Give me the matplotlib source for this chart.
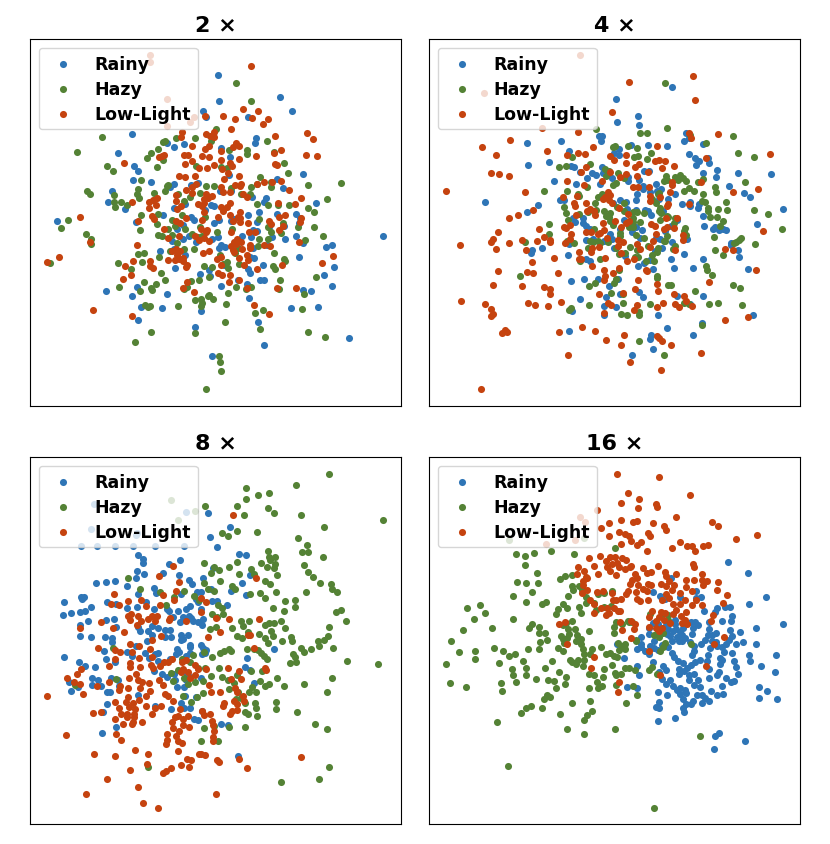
import numpy as np
import matplotlib
matplotlib.use("Agg")
import matplotlib.pyplot as plt

# t-SNE embeddings (panel units, y grows downward)
classes = ["Rainy", "Hazy", "Low-Light"]
colors = ["#2E75B6", "#548235", "#C5430F"]
titles = ["2 ×", "4 ×", "8 ×", "16 ×"]

rainy_2x = np.array([
    (56.5,10.8),(57,18.8),(75.2,17.5),(78.9,21.7),(52,21.6),(52.9,23.5),(30.6,28.7),(65.5,23.5),(67.9,29.9),(67.7,31.3),
    (26.6,34.4),(31.3,38.3),(32.6,39.7),(57.4,32.7),(60.3,35.5),(43.3,32.4),(46.2,31.6),(41.2,31.2),(82.1,40.7),(74.4,42.1),
    (76,44.9),(36.5,43),(31.1,42.4),(24.6,45.7),(23.6,48.9),(28.6,51.1),(42.1,44.5),(43.2,43.6),(48.4,43.8),(50.6,43.4),
    (57.2,45.8),(59.8,41),(60.5,45.7),(66.8,47.5),(70.4,48.9),(70.9,47.9),(69,52),(74.2,52.6),(79.9,52.6),(81.2,53.7),
    (85.9,49.3),(8.2,54.7),(31.9,54.9),(40.1,52.9),(43.3,50.9),(46.7,49.5),(48.5,53.5),(49.3,54.4),(52.6,51.3),(54.5,49.8),
    (55.3,50.2),(56.8,54.5),(60.4,54.8),(61.5,54.1),(65.6,52.9),(68.4,55.1),(67.2,57.5),(71.9,56.5),(76.4,56.3),(80.8,55.2),
    (106.1,59.2),(55.3,55.4),(44.2,57.3),(45.9,55.9),(42.6,60.7),(46.1,60.3),(47.7,59.4),(54.6,60.2),(56.5,59.6),(57.4,61.9),
    (63.9,59.3),(66.4,59.6),(68.4,57.9),(72.8,59.7),(76.6,60.1),(80.1,59.2),(82.2,61.4),(89.1,62.6),(90.7,62),(39.1,63.7),
    (43.3,63.1),(46.5,64.9),(49.8,61.1),(56.8,62.9),(58.6,62.6),(66.3,65.6),(67.2,63),(67.5,66),(71.4,62.1),(80.8,65.6),
    (91.3,68.5),(43.6,69),(51,70.8),(53.9,69.5),(54.2,71.3),(58.4,67.9),(65.5,69.1),(66.1,70.4),(70,67.9),(69.1,72.5),
    (70.5,72.5),(88.4,70.9),(90.9,74.2),(22.8,75.8),(32.1,74.7),(41.3,76.6),(30.6,77.3),(57.6,74.2),(62.6,72.5),(65.4,73.6),
    (66,78),(39.6,80.9),(33.5,80.7),(78.5,80.9),(86.7,80.5),(32.4,84.6),(51.3,81.8),(49.7,86.5),(68.5,85),(70.3,92.1),
    (54.8,95.3),(96,89.8),(82.1,75.4),(84.4,75.7),
])
hazy_2x = np.array([
    (62.1,13.2),(66.4,18.7),(21.6,29.5),(14,34),(40.1,31),(40.7,30.7),(38.5,33.1),(44,29.9),(49.7,29.8),(36.3,34.2),
    (35.3,35.8),(39.9,36.5),(38.1,38.4),(23.3,38.2),(24.9,39.8),(55.9,27),(54.5,30.8),(59.9,33.3),(65.2,33.5),(65.4,34.6),
    (71.2,30.7),(73.4,33.9),(76.4,37.3),(77.6,40.4),(49.9,38.3),(57.6,38.5),(59.2,38.9),(18,46.6),(17,45.8),(25.3,46.9),
    (25.7,50.6),(25.3,49.1),(27.5,49.1),(29.2,50),(32.2,46.5),(32.8,47.7),(33.5,42.3),(32.6,45),(37.2,46.4),(40.7,45.8),
    (41.2,44.2),(41.6,43.9),(44.6,46.5),(46.3,48.6),(48.2,47.5),(51.2,46.3),(52.9,44.3),(55.3,44.2),(60.6,44.9),(63.5,46.5),
    (66.3,46.7),(66.5,44.4),(69.2,41.5),(68.2,43.5),(72.6,43.1),(72.6,44.6),(83.5,43.9),(93.7,43.2),(89.4,48.1),(83.5,50.8),
    (85.3,52),(77.8,50),(74.6,50),(71.7,50),(68.3,49.6),(11.5,54.3),(9.2,56.8),(16.8,58.7),(18.3,60.3),(18.4,61.8),
    (33.3,53),(33.2,57.5),(38.6,52.6),(38.3,55.6),(42.7,54.3),(45.6,52.8),(46.5,57.3),(48.7,58.7),(51.2,56.5),(51.7,59.4),
    (52.6,53.5),(42.8,58.9),(41.4,57.3),(43.6,56.4),(38.5,59.1),(39.8,59.3),(44.1,61.5),(46.4,63.2),(49.4,63.2),(50.6,59.7),
    (56.3,58.1),(60.7,57.3),(69,54.1),(71.6,56.7),(72.6,58.1),(75.4,58.5),(76,55.5),(80.6,56.6),(85.5,56.7),(88.1,59.2),
    (82.7,60.4),(68.8,60.3),(71.5,60.2),(68.7,62.4),(73.3,64.5),(76.3,66.2),(85.9,71.6),(5.9,67.5),(26.6,67.4),(30.3,69.3),
    (32.6,64.6),(34.3,64.3),(33.6,67.1),(38.8,65.5),(42.1,63.8),(52.2,68.3),(54.7,68.7),(58.2,67.6),(59.4,67.2),(59.5,68.8),
    (61.8,64.3),(62.7,63),(57.1,65.1),(62.8,67.6),(73.2,68.3),(73.7,69.1),(76.7,66.7),(34.4,73.1),(37.8,73.8),(36.3,74.9),
    (39.4,70.4),(40.6,72.6),(33.2,75.7),(36.6,75.6),(48.4,72.9),(46.3,75.1),(50.7,72.4),(53.8,71.5),(53.7,76.9),(51.5,78.2),
    (49.7,78.4),(47.1,74.7),(59.5,76.4),(62.1,74.5),(66.4,74.6),(26.7,74.6),(44.6,80.2),(53.6,77.2),(64.9,75.1),(75.2,72.4),
    (82.5,76.6),(34.7,80),(36.1,80.2),(35.5,80.7),(51.8,79.4),(51.3,80.2),(55,78.2),(58.9,79.8),(58.8,85),(67.8,82.4),
    (70.2,81.6),(75,75.2),(81.7,81.1),(49.6,88.3),(36.3,88.2),(31.6,91.2),(69.2,87.2),(83.7,88.2),(88.6,89.5),(56.8,95.5),
    (57.1,97.3),(57.5,99.8),(52.8,105.4),
])
lowlight_2x = np.array([
    (36.1,4.8),(36.1,6.8),(41.3,17.9),(48,25.1),(41.3,26.3),(66.4,8.2),(49.4,23.5),(52.6,23.1),(58.2,23.2),(61.6,24.2),
    (64,21.2),(66.8,23.8),(68.7,21.6),(71.6,24.2),(70.1,25.7),(60.4,27.1),(45.6,28.1),(45.4,29.4),(54.2,29.2),(55.4,29.6),
    (55.2,28),(53,28.6),(48.7,32.1),(53.8,32.1),(62.1,31.2),(62.8,32.1),(61,32.6),(73.6,29.1),(83.4,28.4),(85.2,30),
    (40.4,34.9),(39.6,35.3),(38.7,35.4),(46.3,35),(47.6,34.9),(48.6,36.8),(46.6,37.6),(51.8,35.1),(53.8,35.4),(52.7,33.2),
    (57.5,33.7),(57.4,36.4),(55.2,37.8),(53.1,38.7),(50.7,38.8),(60.1,37.4),(60.8,38.1),(57.9,39.2),(59.5,40.2),(58.3,42.2),
    (62.8,36.1),(68.1,35.3),(73.3,34.2),(75.6,33.3),(74.3,38),(73.8,37.7),(82.9,34.8),(86.4,35.3),(28.2,37.2),(44.9,41.3),
    (46.7,41.5),(49.5,41.1),(49.9,43.6),(48.8,44.4),(46.9,45.3),(44,46.8),(48.8,46.2),(52.8,46.5),(54.6,47.1),(52.3,48.2),
    (57.5,44.6),(58.1,46),(60.3,45.9),(61.6,44),(62.8,41.3),(63.2,44.3),(64.2,46.6),(63.4,43.5),(65.4,47.6),(68.3,43.7),
    (70.4,42.9),(72.8,43.1),(75.6,42.8),(77.9,45.4),(81.6,47.9),(74.5,49.2),(75,53.4),(76.8,52.8),(79.7,49.6),(30.6,49.1),
    (35.8,49),(35.7,50.8),(37,48.3),(37.9,49.8),(38.1,47.9),(43.8,48.7),(44.3,51.1),(45.3,50.2),(50.4,49.6),(52.3,49.2),
    (53.6,47.8),(51.8,50.2),(57.5,50.5),(58.1,51.7),(59.2,50.6),(60.1,49.3),(63.2,52),(62.6,53.4),(60.2,53),(61.2,54.7),
    (63.3,53.9),(52.2,51.9),(51.6,54.4),(56.7,53.6),(46.8,53.7),(43.9,54.8),(45.1,55.4),(32.4,54.8),(37.2,54.2),(36.6,53.3),
    (14.9,53.6),(63.2,55.1),(65.6,55.4),(71.9,54.8),(72.6,55.6),(76.1,56.3),(74.9,57.6),(81.4,53.7),(81.3,55.1),(40.4,57.3),
    (41.6,59.9),(44.9,59.3),(49.7,59.2),(51.5,57.1),(52.8,58.1),(53.2,57.6),(53.7,60.8),(50.7,60.6),(52.3,60),(60.5,58.1),
    (65.9,58),(67.6,58),(61.4,61.1),(62,61.8),(63.6,61.1),(60.5,62.3),(62.3,60.1),(66.3,62.9),(61.1,63.4),(63.9,63.3),
    (70.3,61.9),(72.1,62.2),(80.9,61.1),(32.2,62.1),(18,61),(5,67),(8.6,65.7),(42.6,63.9),(43.8,63.1),(43.7,66.6),
    (45.2,63.7),(44.9,66.1),(41.4,66.5),(44.2,65),(45.9,65.8),(46.1,66.9),(36.2,66.9),(36.2,68.4),(31.1,66.9),(28.5,68.4),
    (37.1,68.9),(46.8,68.5),(47.3,68),(53.8,63.8),(52.1,64.4),(57.6,65.6),(56.4,66.3),(57.6,67.9),(61.4,64.2),(63,65.8),
    (64.4,67.9),(65.7,66.6),(65.4,64.9),(66.1,62.1),(68.3,69.3),(75.9,68.1),(87.8,67.4),(91,65.3),(28.1,72.1),(30.3,71.1),
    (47.1,73.2),(45.9,75),(49.2,76.2),(56.6,70.4),(57.8,71.1),(60.1,71.1),(59.9,73.1),(62.9,72.6),(65.2,74.9),(74.4,75),
    (79.9,74.8),(67.3,80.1),(71.9,82.8),(30.7,83.3),(19.1,81.4),
])

rainy_4x = np.array([
    (73,14.3),(56.3,18.1),(63,23.3),(56.6,25),(63.1,25.9),(39.6,30.6),(29.4,31.3),(29.7,37.9),(36.1,37),(42.1,33.8),
    (42.6,38.2),(43.7,38.6),(45.5,39.9),(44.2,43.5),(37.5,42.6),(51.8,30.8),(51.2,29.3),(52.1,29.3),(60.7,31.8),(57.3,33.1),
    (57.1,34.9),(55.5,34.3),(65.9,31.8),(71.6,32.3),(76.6,30.8),(77.2,28.4),(78.1,29.7),(82.5,31.6),(84.3,37.3),(78.1,34.6),
    (80.1,35.8),(80.4,37.9),(81.2,36.6),(83.8,35.8),(82.3,40.4),(86.2,41.5),(86.7,39.4),(93.1,40.4),(103,40.6),(94.8,46.2),
    (90.2,44.3),(96.7,47.4),(98.6,55.6),(106.5,51),(66.1,39.6),(64.7,39.6),(63.1,42.4),(64.4,44.3),(64.4,45.2),(59.8,41.5),
    (59.8,42.6),(51.9,38.5),(52.4,40.3),(50.2,40.9),(51.3,43.5),(55.1,41.9),(48.9,40.2),(47.4,41.9),(40.7,48.4),(39.4,48.4),
    (43.2,53.7),(44,54.9),(46.3,55.5),(46.2,53.9),(47.3,56.2),(48.3,57.3),(55.4,49.2),(57.6,48.4),(59.2,49.1),(59.5,51.1),
    (62.2,48.5),(62.7,46.7),(68.4,43.5),(68.6,45.8),(69.8,45.2),(71.8,48),(74.1,46.7),(74.5,54.1),(74.5,54.4),(76.1,49.7),
    (78.6,49),(78.6,50.2),(81.3,49.7),(81,50.7),(82.5,53.1),(82.8,56.2),(85.9,56.7),(88.4,57.3),(89.4,57.5),(90.9,61.4),
    (90.9,62.1),(93.1,63.4),(93.2,65.5),(95.9,69.2),(87.3,57.4),(85.4,57.3),(69.1,48.2),(70.3,51.7),(65.9,51.6),(64.9,51.5),
    (62.2,51.4),(58.8,54.3),(57.5,57.3),(61.2,58.1),(62.3,56.6),(63.4,59.9),(64,57.4),(68.3,60),(70.9,57.7),(72.7,56.4),
    (77.5,60.1),(70.2,62.8),(68.1,63.7),(69.5,60.3),(73.2,61.2),(72.7,66.1),(76.7,64.8),(82.4,66.2),(79.5,68.8),(73.6,68.9),
    (67.3,69.2),(64.8,67.3),(66.4,66.5),(62.9,68.2),(59,65.4),(55.6,62.8),(54.9,60.2),(54.4,58.6),(52.6,60.8),(49.2,60.3),
    (47.1,60.5),(42.1,61.6),(41.8,65),(34.1,62.9),(30.9,63.6),(30.6,64.5),(16.9,49.1),(29.4,52),(32.9,49.8),(47.2,66.1),
    (48.4,66.8),(42.6,72.7),(46.5,72.2),(50.7,72.3),(54.2,74.3),(56.8,72.2),(57.5,76.6),(53.1,77.5),(52.6,80.3),(56.2,80.5),
    (52.5,82.9),(45.4,78.2),(43.1,81.8),(42.2,87.8),(63.1,76.1),(64.4,77.5),(69,83.1),(66.9,88.9),(66.5,90.1),(71.5,87),
    (79.5,89),(78.4,79.7),(74.7,77.3),(82.1,85.4),(82.4,77.4),(97.6,83.1),(67.3,93.4),(61.1,95.1),(66.9,52.9),(66.5,45.9),
])
hazy_4x = np.array([
    (70.9,13.2),(50.2,27.1),(71.7,26.9),(65.7,28.4),(63.5,28.4),(78.4,28.8),(83.3,31.4),(91.4,29.2),(92.8,34.2),(97.7,35.5),
    (55.3,32.4),(56.1,32.2),(59.9,32.2),(62.5,32.9),(61.7,35.4),(62.9,35.2),(65.5,36.2),(66.8,34.4),(43.1,35.5),(39,38.4),
    (41.1,38.1),(48.5,37.6),(52.9,39.2),(54.2,39.6),(53.7,40.4),(53.2,41.2),(57,40.2),(58.6,41.7),(56.4,43.4),(55.2,44),
    (47.6,44.4),(41.6,45.7),(44.8,46.6),(45.2,47.2),(34.7,45.7),(50.8,47.6),(52,46.5),(53.5,46.8),(49.9,49.3),(50.2,51.4),
    (47.9,51.9),(52.7,51.8),(54.5,52.3),(56.6,50.6),(58.6,49.2),(58.8,51.6),(61.3,51.9),(62.6,51.9),(61.4,53.9),(61.5,54.9),
    (63.6,54.9),(64.8,52.2),(61.5,56.5),(60.1,56.6),(62.4,58.9),(57.5,58.4),(57.5,59.3),(55.3,55.9),(54.5,54.8),(54.2,53.5),
    (53.1,53.1),(49.6,57.2),(50.9,60.7),(51.4,61.3),(49.3,61),(48.5,60.9),(40.7,50.4),(41.3,52.4),(41.8,54.3),(45.1,52.6),
    (36.2,55.8),(36.1,58.8),(28.8,61.2),(27.3,71.2),(41.4,60.8),(43.6,61.3),(47.7,62.9),(45.5,66.8),(51.4,66.1),(53.8,61),
    (56.2,62.9),(57.1,64.8),(59.1,64.3),(60.4,62.7),(62.5,63.6),(62,65.5),(62.8,65.6),(64.8,59.8),(65.9,62.4),(67,65.1),
    (68.6,64.2),(65.4,66.8),(67.7,66.8),(68.8,62.9),(70.8,60.9),(71.1,60.7),(71.7,59.2),(73.4,63.2),(74,62.4),(73.6,55.5),
    (74.1,53.9),(69.9,52.2),(69.6,54.3),(71.7,53.3),(71.9,53.6),(69.5,50.7),(69.1,51.6),(68.2,49.2),(67.1,48),(68.8,46.5),
    (69.3,46.2),(71.2,41.2),(70.6,42.7),(71.6,42.4),(74,41.6),(74.8,42.3),(75.5,40.9),(76.3,41.8),(77.2,42.6),(76.7,45.6),
    (78.2,44.9),(79.6,45.8),(82.4,46.5),(82.2,48.6),(82.9,48.9),(80.8,42.9),(82.3,42),(85.9,44.4),(86.3,46.1),(84,50.9),
    (83.9,51.8),(84.4,53.5),(86.7,53.6),(87,51.2),(89.4,49.1),(89.6,51.3),(88.5,54.6),(87.4,56.3),(85.8,59.6),(86,63.4),
    (88.4,65),(91.7,61.3),(92.2,61),(93.2,60.4),(93.9,59.9),(95,42.9),(97.7,51.5),(98,61.6),(102.1,52.5),(106.2,57.2),
    (76.8,57.9),(77.2,59.1),(76.9,57),(83.2,68.4),(83.7,69.6),(85.1,70.9),(79.9,75.7),(71.8,74.1),(72.8,74.1),(68.5,71.8),
    (68.6,71.2),(57.2,69.6),(56.2,72.1),(55.7,73.3),(54.6,76.4),(49.8,73.4),(48.2,74.3),(42.7,80.8),(42.1,81.4),(48.1,79.9),
    (57.7,82.7),(58.3,79.3),(59.7,82.9),(63.2,82.1),(63.3,83),(66.6,79.7),(76.6,79.5),(78.2,79.8),(84.3,79.8),(86.9,79.3),
    (91.5,74),(93.6,75),(94.1,79.9),(82,86),(63.2,90.9),(70.8,95.2),(58.5,76.8),
])
lowlight_4x = np.array([
    (45.5,4.9),(16.6,16.1),(60.2,12.8),(79.3,11.2),(80.1,18.5),(54.9,21.9),(34,26.7),(44.8,27.9),(15.8,32.4),(24.3,30.3),
    (20.1,34.9),(18.6,40.2),(21.2,40.5),(24.1,41.3),(35.4,33.8),(44.8,34.3),(46.8,34.6),(49.4,32.6),(41.6,34.9),(5.2,45.8),
    (28.9,46.1),(31.3,51.4),(26.8,52.9),(24,53.9),(33.2,57.3),(20.7,58),(18.8,61),(19.4,60.1),(20.1,63.2),(9.4,62.1),
    (24.2,61.4),(28.1,60.5),(29.1,63.6),(32.6,60.7),(34.6,59.5),(36.4,60.5),(36.3,61.2),(37.5,65.8),(30.9,67.2),(31.3,70.4),
    (29.4,70),(20.9,69.7),(19.2,74.1),(27.9,74.4),(34.7,74.6),(36.3,75.1),(36.5,76.8),(38.9,70.4),(45.1,66.2),(45.2,64),
    (9.6,78.7),(16.7,79.6),(18.7,81.3),(19.4,82.8),(18.5,83.3),(29.7,79.5),(32,79.9),(35.7,80.3),(39.6,79.1),(22,88.3),
    (23.5,88.1),(22.8,87.5),(39.1,88),(46,86.5),(49.8,87.8),(53.2,90.6),(41.8,95),(15.7,105.3),(57.8,92),(58.8,89),
    (60.4,97.3),(69.9,99.7),(72.9,92),(81.9,94.6),(69.3,90),(88.9,84.4),(96.1,83.7),(98.4,69.4),(100.5,57.9),(99,45.2),
    (102.5,34.6),(86.9,28.5),(78.2,28.2),(78.7,29.7),(83.3,35.8),(68.5,32.3),(69.3,36.3),(70.9,36.8),(70.1,38.9),(67.9,36.8),
    (73.8,38.1),(62.1,38.5),(63.1,37.7),(59.2,37.3),(55.7,36.4),(54.4,35.3),(59.4,34.9),(47.2,38.6),(45.7,40.1),(41.4,42.6),
    (46.6,43.9),(52,42.6),(54.3,39.9),(57.6,41.6),(59.3,40.5),(62.7,41.3),(65.8,40),(61.5,44.6),(62.8,44.6),(66.1,44.5),
    (66.4,47.1),(66.4,48.8),(69.6,47.6),(73.1,43.9),(73.2,42.9),(72.5,46),(81.7,43.1),(91.4,46),(78.2,49.7),(74.5,53.7),
    (40.3,47.4),(43.6,49.3),(44.5,47.3),(44,50.2),(47.1,49.2),(47.5,51.6),(48.4,51.1),(49.6,51.7),(50,52.9),(52.8,47.6),
    (52.3,48.2),(53.8,46),(54.5,46.8),(54.1,48.5),(55,49.3),(57.1,50.7),(60,52.5),(60.2,54.6),(59.3,55.5),(57.7,56.7),
    (55.9,54.8),(52.4,55.2),(52.7,57.6),(53.5,59.9),(51.4,58.3),(50.7,58.8),(48.7,58.2),(47.1,58.1),(49.1,63),(48.8,64.1),
    (51,62.6),(52.9,65.8),(57,60.4),(56.9,62.4),(58.5,61.1),(57.9,64.3),(62.5,61.8),(63.6,63.2),(66.4,62.7),(67.4,60.8),
    (68.1,56.3),(66.7,55.7),(68.4,58.6),(71.5,56.6),(71.2,53.9),(70.8,57.3),(71.8,49.6),(71.6,50.3),(73.8,56.9),(74.1,63.5),
    (76.5,60.6),(76.4,59.1),(88.9,63.3),(91.5,63.6),(44.2,52.8),(42.3,55.9),(41.3,57),(40.6,56.6),(42.7,58.6),(42.3,60.2),
    (40.9,61.5),(45.7,66.1),(48.9,68.3),(52.6,69.4),(52.9,71.4),(52.5,72.4),(55.4,70.5),(57.2,69),(59.6,66.7),(61.6,66.3),
    (65.2,69.6),(65.6,69.7),(62.8,72.5),(62,75.2),(58.3,76.3),(51.2,76.7),(53.7,79.5),(54.6,79.9),(52.5,82.3),(62.7,79.9),
    (61.7,81.4),(68.7,73.8),(68.8,75.7),(68.5,80.5),(70.5,79.5),(73.6,76.8),(73.9,79.8),(75.2,80.5),(77.2,78.8),(84.1,73.2),
    (79.2,80.4),(76.8,77.3),(70.2,90.7),(68.5,89.4),
])

rainy_8x = np.array([
    (19.4,14.2),(18.3,21.7),(31.8,23.6),(32.3,23),(46.9,16.6),(53.5,16.8),(60.1,21.1),(54.2,24.1),(56.4,27.1),(15.2,26.9),
    (20.1,26.9),(25.6,26.9),(30.9,26.9),(37.6,26.9),(46.3,26.9),(32.6,29.6),(34,30.7),(34.1,31.8),(41.8,32.2),(45,30.9),
    (63,29.3),(65.1,29.5),(32.2,34.2),(34.4,35.3),(31.8,36.3),(40,35),(44.7,35.5),(47.9,37),(48.7,38.1),(51.9,36.3),
    (55,33.5),(66.2,35.5),(63.9,38),(19.8,37.9),(23,37.6),(25.6,37.2),(29.1,38.9),(37.4,39.5),(37.9,40.8),(32.4,41.1),
    (54.3,39.6),(51.3,40.6),(50.1,40.5),(49.9,42.7),(45.5,41.3),(60.6,40.4),(64.9,41.5),(15.2,42.2),(16.3,42),(15.7,42.6),
    (10.1,43.6),(18.4,45.2),(23.1,43.7),(25.9,44.3),(29.2,45.3),(32.2,45.2),(34.9,43.6),(37.3,45.7),(41.3,45.8),(41.9,46.4),
    (44.4,46.2),(47,45.8),(48,44.7),(50.6,43.6),(51.5,45.8),(54.7,43.2),(56.4,43.2),(59.3,44.4),(14.9,46.6),(16.6,46.2),
    (12.2,46.9),(9.8,47.6),(17.4,49.2),(22.9,48.9),(25.3,48.8),(25.8,51),(32.4,51.2),(35.6,52.4),(36.6,50.9),(38.4,51.3),
    (40.5,51.9),(42,52.1),(43,48.1),(45.1,49.6),(46.1,48.2),(47.7,47.8),(48.5,48.5),(49.1,49.3),(50.4,49.5),(52,48.6),
    (51.6,50.6),(47.6,53.4),(46.1,54.8),(45.3,55),(45.4,53.5),(42.4,54.2),(40.7,54.2),(36.6,53.6),(33.2,52.4),(14.9,50.4),
    (15,53.8),(18.3,54.2),(22.6,54),(24.6,54.3),(24.7,55.6),(31.9,56.9),(35.3,55.3),(34.7,59),(37.6,59.4),(38.6,59.1),
    (44.2,57.8),(44.7,58.8),(48.1,56.5),(48.2,57.2),(51.4,56.6),(52,57.4),(52.7,58.9),(53,58.1),(51.6,59.4),(48.1,58.9),
    (46.8,60),(43.9,59.3),(42.1,60.8),(38.5,61.3),(35.8,60.5),(30.7,59.8),(29.1,58.7),(25.6,61.8),(22.9,60.7),(22.4,58.3),
    (10.2,60.1),(14.8,61.7),(16.4,62.8),(19.6,63.3),(18.7,66.6),(20.4,67.2),(11.7,67.6),(12.2,70.3),(14.5,69.3),(18.6,68.6),
    (21.3,69),(23.2,70.7),(24.2,70.8),(24.5,66.5),(26.4,67),(26.9,68.9),(32.6,71.5),(37.4,64.5),(39.8,65.3),(41.1,66.3),
    (43.3,65.3),(43.7,67),(44.1,69.2),(46.9,67.2),(46.3,69.2),(47.2,65.2),(48.1,66.1),(51.3,66.5),(46.6,71.8),(45.4,73.9),
    (46.2,75.6),(42.4,75.7),(49.8,72.2),(48,75.5),(49.4,78.9),(50.4,79),(51.8,76.5),(57.6,80.4),(59.7,80.7),(64.6,63.2),
    (65.2,60.6),(66.1,64.1),(67.4,68.1),(73.4,57.9),(22,76.7),(23.3,74.2),(21.7,82.9),(25.8,81.3),(62.6,90),(37.5,74.9),
])
hazy_8x = np.array([
    (90,5),(80,8.5),(65.1,9.3),(68.7,11.5),(71.9,10.8),(64.9,12.7),(62.3,14.7),(71.7,15.4),(73.4,16.8),(64.3,17.4),
    (52.6,14.7),(49.5,16.3),(44.6,18.9),(42.3,13),(81.6,17.5),(106.1,19.1),(88.4,21.2),(68.3,22.7),(62.4,22.2),(57.9,23),
    (59.6,23.7),(80.7,24.5),(83.2,26.5),(81.7,28.6),(83.6,28.5),(88.2,30.1),(71.5,28.3),(71.8,30.1),(72.1,31.1),(73.8,30),
    (73.8,32.1),(71.3,33),(73.5,33.4),(62.4,31.6),(59.8,33.2),(55.2,33.2),(57,34.1),(52.4,31.9),(54.3,34.8),(66.6,33.7),
    (69.6,31.8),(62.9,35.3),(67.5,35.3),(74.4,35.6),(82.4,32.4),(83.5,34.5),(85.1,36),(87.3,37.8),(90.6,38.2),(90.8,39.7),
    (92.3,40.6),(82.9,40.6),(70.8,37.4),(72.1,38.2),(73.9,40.6),(70.8,42.4),(76.6,43.2),(79.8,43.1),(79.7,45.2),(76.4,46.2),
    (73.2,45.4),(69.2,40.8),(66.1,41.3),(60.8,38.7),(61.6,39.8),(57.3,37.2),(52.4,37.9),(53.4,39.7),(55.2,40.3),(50.9,42.9),
    (49.4,41.7),(46.2,40.2),(43.3,42.1),(40.9,44.4),(39.1,40.5),(33.2,39.8),(29.4,36.5),(56.7,44.4),(57.8,45.3),(58.2,47.3),
    (54.8,47.1),(56.2,48.2),(54.2,51.7),(55.9,51.2),(60.9,51.5),(63.6,49.4),(65.9,49.4),(65.7,52.7),(62.4,53.9),(63.9,54.4),
    (68.9,53.1),(70.8,50.6),(71.8,50),(72.6,52.3),(73.3,49.8),(75.6,49.4),(76.7,51.5),(78.6,54.1),(78.9,55.4),(75.8,55.2),
    (73,53.9),(71.7,55.9),(70.7,54.3),(65.2,57.9),(67.3,57.7),(68.5,58.1),(69.5,59.1),(70.3,59.9),(71.3,60.9),(69.8,64.3),
    (66.6,64.4),(60.4,58.3),(59.8,57.8),(58.5,58.3),(57.2,59.1),(54.6,60.2),(52.2,58.7),(49,59.6),(48.1,61.6),(45.6,60.8),
    (44.6,64.1),(42.5,65),(42.9,67.3),(50.5,63.5),(52.5,63.4),(52.1,67.3),(46.3,66.5),(47.6,68.3),(49.5,67.7),(51.9,71.1),
    (50.1,72.1),(46.1,71.8),(48.3,73.6),(54.5,65.9),(57.7,66.2),(57,63.5),(59.6,67.2),(61.4,67.9),(62.4,65.7),(62.6,70.8),
    (62.1,72.9),(63.6,72.4),(64.8,74.1),(64.6,76.8),(65.6,77.2),(67.8,74.1),(68.1,75.4),(68.3,77.8),(65.9,70.8),(68,70.8),
    (66.7,69.3),(70.6,69),(71.9,68.4),(69.1,67.4),(74.1,73.6),(74.1,75.8),(76.5,69),(74.3,66.5),(78.1,61.9),(79.9,61.7),
    (79.6,60.1),(79.1,59.3),(82.4,58.7),(81.4,57.5),(84.4,57.7),(86.9,56.8),(86.7,55.2),(88.3,54.9),(89.6,53.7),(89.9,51),
    (91.2,57.4),(91.9,46.6),(93.7,46),(95,49.2),(95.3,61.4),(90.8,66.5),(89.2,70.6),(82.5,68.3),(80.2,76.7),(104.7,62.3),
    (64.2,50.9),(59.8,69.7),(52.2,81.4),(55.2,80.9),(51.4,85.3),(56.5,85.5),(60,81.1),(64.8,81.2),(85.8,80.4),(89.4,81.7),
    (90,93.2),(87,96.8),(75.4,97.8),(35.6,93.4),(13.5,68.5),(26,66.8),(25,57.4),
])
lowlight_8x = np.array([
    (61,17.3),(38.9,35.7),(44.9,37.5),(68,36.4),(43.8,40.3),(43.3,42.9),(25.3,41.3),(24.4,44.3),(26.7,44.6),(29.5,43.3),
    (33.4,43.1),(34.8,44.7),(30.5,47.1),(29.5,47.9),(32.6,47.7),(30.1,49.1),(33.4,49.3),(32.2,50.6),(35.4,48.8),(36.8,47.7),
    (38.2,47.7),(37.7,49.4),(21.3,49.7),(25.1,51.5),(28.4,52.7),(15,51.3),(42.1,48.3),(47,49.3),(51.4,42.5),(52.8,43.5),
    (51.5,46.5),(56,48.4),(53.6,54.2),(57.3,52.7),(59.9,48.8),(68.9,48.7),(65.5,53.6),(66.3,53.4),(67.5,57.4),(71,64.1),
    (39.4,53.8),(36.6,55.1),(30,56.2),(25.5,58.1),(25.5,60.9),(27.2,58.6),(20.4,57.6),(30.6,58.8),(32.8,57),(36.1,57.7),
    (36.8,60.1),(32.9,60.6),(30.2,62),(30.1,63.3),(33.2,63.2),(36.3,62.6),(37.1,63.6),(39.1,63),(40.3,61.8),(41.6,61.7),
    (42.6,60.7),(45.8,61.8),(46.8,61.1),(46,63.7),(45.3,64.7),(47.6,64.7),(48.1,66.5),(49.5,62.7),(49.6,65.5),(50.5,63.8),
    (52.9,63.8),(23.7,62.9),(15.3,63.9),(14.2,65.3),(11.2,66.4),(13.2,67.8),(15.1,68.2),(16,71.4),(20.2,69),(23.9,67.6),
    (27.1,68.8),(29.6,69.6),(29.8,66.6),(31.9,65.4),(32.4,67.2),(33.7,67.7),(35.8,68),(36.1,70.3),(35,71.9),(33,69.5),
    (38.9,67.1),(39.9,68.6),(40.5,71.2),(41.4,72),(43.1,73.3),(39.5,75),(37.7,75.5),(34.9,74.9),(32.8,73.1),(31,73.9),
    (29.5,72.1),(26.7,70),(25.6,73.8),(26.9,75.4),(28.8,73.7),(29.8,75.1),(29.1,77.2),(31.5,75.7),(31.3,77.4),(29.2,78.2),
    (31.4,78.2),(31.1,79.6),(30.6,80.3),(28.1,80.3),(27.5,77.4),(25.7,78.9),(21.3,76.8),(19.1,77),(33.7,79.6),(36.6,77.4),
    (43.5,78.2),(42.8,79.6),(43,81.4),(44.4,77.8),(45.2,75.9),(47.6,77.8),(45.9,78.7),(46,80.5),(47.8,81.3),(44.9,82.3),
    (44,83.8),(41.1,83.4),(41.1,85.1),(41,86.2),(44.4,85.4),(44.5,88.3),(45.7,86),(47.3,90.7),(48.3,91.2),(50.8,89.3),
    (51.5,89.3),(52.6,89.5),(51.7,76.5),(52.2,77.7),(54,77.3),(54.6,79.5),(55.1,80.5),(55.2,82.3),(55,84.1),(55.1,85.3),
    (58.3,74.1),(58.1,74.9),(60.1,77.2),(60.9,76.5),(62.4,74.4),(62.3,76.1),(57.3,70.6),(54.4,70.7),(53.8,68.7),(61.6,69.4),
    (62.4,70.7),(64.2,71.8),(64.4,73.5),(61.5,73.3),(63.6,66.8),(63,64.4),(70.8,63.6),(59.5,63.4),(60.6,66.8),(26,83.4),
    (27.5,85.2),(25.7,90),(19.2,89.3),(10.8,83.6),(5,72),(16.7,101.5),(23.3,96.8),(30.1,94.2),(32.6,99.4),(34,104.2),
    (38.5,105.6),(40,95.2),(40.8,94.6),(42.4,93.7),(35.5,89.2),(31.5,88.2),(35.3,92.3),(45.3,92.7),(47.8,93.3),(56.2,91.2),
    (56.9,91.8),(62.8,90.7),(65.4,93.5),(55.8,101.5),(81.4,90.2),(40,41.5),(43,32.8),(39.1,44.5),(41.8,48.9),
])

rainy_16x = np.array([
    (90,31.6),(96,34.9),(101.4,42.2),(96.4,44.3),(106.4,50.1),(72.9,36.3),(67.3,40.6),(69.4,41.8),(71.1,42.6),(75.5,42.2),
    (80.2,40.2),(80.3,42.4),(81.9,42.2),(82.8,46.2),(86.1,46.6),(86.6,45.4),(88.9,45.2),(90.4,45.2),(91.1,47.7),(90.7,49.2),
    (88.2,49.4),(90.4,51.9),(93.6,52.6),(91,53.7),(90.2,55.1),(92.3,56.3),(94.6,55.6),(98.5,56.3),(98.4,51.5),(96.2,59.6),
    (96.6,61.4),(99.8,62.9),(104.4,59.6),(104,64.8),(104.8,72.9),(99.3,69.1),(101.8,70.5),(99.3,72.6),(92.8,65.4),(92.4,63.2),
    (91.7,61.4),(91.2,59.1),(88.8,58.8),(87.5,60.6),(87.6,62.3),(89.2,56.2),(88.1,57.3),(86.6,57),(86.4,55.7),(85,55.2),
    (84.4,57.4),(83.8,59.7),(83.6,61.3),(81.6,61.2),(80.1,61.8),(79.8,58.4),(79,59.7),(79.7,56.8),(81.7,56.2),(83,55.1),
    (84,53.5),(85.2,53.5),(86.2,52.8),(84.1,51.6),(84.1,49.5),(80.9,50.5),(80,49.6),(78.8,49.7),(79.4,51.3),(79.1,53.1),
    (77.1,54.5),(78.5,55.8),(76.2,55.5),(75.2,55.2),(74.5,54.1),(76,53.4),(75.4,52.7),(76.3,51.5),(74.4,51.6),(73.3,52.4),
    (73.1,55.3),(72.5,53.8),(71.5,53.1),(72,51.8),(74.1,50.2),(71.4,50.4),(69.5,52.3),(68.9,50.3),(67.4,50),(66.2,51.5),
    (66.2,53.1),(67.8,55.3),(66.4,56.8),(63.8,54.2),(63.9,56.3),(62.7,57.9),(65.1,58.5),(66.2,59.4),(63.7,57.1),(67.8,57.4),
    (69,58.2),(71.8,57.2),(73.1,59.1),(73.8,60.2),(74.8,61.3),(75.3,63.8),(75.1,65.4),(76.8,64.4),(76.3,61.9),(77.6,63.6),
    (78.8,62.5),(78.2,65.6),(79.8,65.4),(78.1,67.2),(80.9,67),(79.6,68.5),(81.4,69.3),(80.6,71.6),(79.5,73.4),(78.7,74.2),
    (76.5,72.8),(76.9,70.1),(75.6,69.5),(72.5,67.2),(73.3,68.8),(74.6,70),(75.5,71.4),(77.4,71),(77.4,74.2),(76.3,75.4),
    (76.8,76.8),(82.1,73.9),(82.2,71.7),(84.2,73.4),(83.1,72.6),(84.8,70.3),(86.6,71.5),(88.2,68.9),(88.3,71.3),(90.7,67.7),
    (91.8,67.3),(89.3,66.4),(86.7,65.6),(87.3,64.6),(84.3,66.6),(84.2,63.8),(69.1,64.8),(70.1,66.7),(71.4,68.4),(68.9,70.8),
    (69.2,73.7),(71.6,71.5),(68.3,75.1),(69.3,75.6),(68.8,79.4),(74.1,78.4),(62.5,69.4),(59.6,69.2),(63.1,65.5),(56.5,56.3),
    (58.7,60.6),(62.5,62.8),(67.5,61.7),(71.3,64),(70.3,62.9),(88,61.1),(86.1,83.8),(87.1,82.9),(85.6,87.9),(95.1,85.5),
    (70.1,56.7),(73.9,49.1),
])
hazy_16x = np.array([
    (24.2,24.9),(46.6,24.5),(55.8,27.3),(36.6,28.2),(43.6,29.1),(26.3,29.2),(29,29.8),(31.7,28.9),(28.8,32.4),(32.5,35),
    (26.4,37.5),(29.2,38),(32.9,37.8),(39.4,36.8),(40.9,35.7),(43.1,38.9),(43.3,39.9),(45.2,38.8),(45.9,39.9),(42.9,35.5),
    (31.1,40.7),(25.4,41.7),(29.3,43.7),(34.1,44.3),(35.2,43.6),(41.8,41.7),(46.4,40.2),(47.2,42),(47.1,43.9),(45.2,45.1),
    (49.5,44),(52.5,40.8),(55,40.2),(50.8,41.3),(41.5,45.5),(40.2,44.3),(38.9,45.8),(38.2,47.3),(45.6,46.8),(50.1,46),
    (52.5,45),(54.7,44.8),(60.3,49.5),(58,50.1),(55.7,51.2),(55.6,52.9),(11.5,45.3),(15.4,44.6),(16.9,46.9),(13.4,48.8),
    (18.9,51.5),(10.1,52.1),(6.7,55.3),(8.9,58.6),(13.9,58.4),(13.8,60.9),(5.2,62.3),(6.4,68.1),(11.1,69.3),(19.7,57.4),
    (22.4,58.5),(21.1,61.9),(21.6,67.9),(21.9,70.5),(25.4,48.8),(24.1,59.9),(24.9,63.8),(25.3,65.5),(25.9,59.4),(26.3,67.6),
    (28.3,61.3),(29.3,63.4),(29.2,65.6),(30,51.5),(30.9,50.3),(29.9,57.8),(33.1,51.2),(33,52.8),(34.9,52.9),(33.5,55.7),
    (35.4,54.9),(33,57.8),(32.2,66.8),(35.7,67.1),(34.8,63.6),(36.9,61.5),(38.8,57.5),(39.2,64.7),(37.6,67.5),(38.1,69.5),
    (35.5,71.6),(34.7,72.8),(36.4,72.1),(41,68.4),(41.3,66.3),(43.1,73.9),(39.3,77.3),(34,75.5),(30.7,74.9),(29.1,75.5),
    (27.7,76.9),(20.6,79.6),(23.8,93.1),(41.4,81.8),(46.7,83.2),(46.6,79),(47.6,77.5),(49.1,76.3),(48.3,73.4),(48,69.4),
    (50.9,69.4),(50.4,67.6),(49.5,65.6),(48.2,65.2),(52.2,66.1),(52.7,63.7),(55.9,65.1),(56.2,68.7),(59.3,74),(62.5,71.7),
    (56,81.7),(67.6,105.5),(81.6,83.9),(46.6,61),(44.9,61.2),(43,61.7),(44.1,62.4),(46.2,62.9),(42.4,61.1),(40.4,58.5),
    (40.7,56.1),(40.4,54.7),(41.6,54.5),(44.1,55.5),(44.5,53.4),(45.7,54.8),(43.8,51.8),(42.1,53.3),(45.6,56.3),(48,52.3),
    (48.5,59.3),(48.9,57.9),(51.8,57.2),(54.4,59.1),(55.6,59.8),(53.2,59.3),(46.5,59.3),(46.3,57.7),(41.9,51.6),(41.3,50),
    (43,49.2),(40.2,50.5),(39.6,53.9),(55,62.7),(56.3,65.5),(57.9,65.4),(60.3,63.4),(62.1,64.1),(62.2,55.4),(56.9,55.9),
    (58.2,57),(59.1,57.8),(67.1,63.1),(68.5,65.3),(67.6,53.5),(69.3,54),(70.5,52.9),(71.8,49.1),(78.8,56.4),(66.5,47.3),
    (70,47.1),(72,47.5),(68.8,52.3),(69.5,58.4),(70.5,57.2),(71,56.1),(56.2,49.7),(59.9,49.3),(61.1,49.7),(62.3,54.9),
    (61.4,69),(52.1,68.9),(66.2,64.1),(59.1,56.4),(57.3,58),(56.7,60.1),(59.1,63.4),
])
lowlight_16x = np.array([
    (45.3,17.9),(47,19.6),(35.2,26.3),(43.8,25.1),(56.5,5),(69.1,5.9),(60,10.9),(63.1,12.6),(57.9,13.9),(62.8,15.3),
    (68.6,14.9),(68.4,14.1),(78.4,11.3),(50.6,15.8),(57.9,19.1),(54.2,19.8),(61.3,19.6),(62.7,19.2),(67.5,20),(70.6,20.9),
    (71.4,21.9),(74.2,17.9),(85.2,19.5),(86.9,20.8),(51.6,21.5),(54.1,23.8),(57.3,22.5),(58.9,23.3),(60.2,23.9),(65.9,22.8),
    (66.5,23.7),(63.8,25.6),(60.7,25.3),(57.7,26.1),(62.7,26.6),(65.5,28.4),(73,27.3),(75.5,25.5),(77.6,26.9),(79.2,26.9),
    (80,28.2),(82.4,26.7),(83.9,26.5),(92.3,24.8),(98.7,23.5),(48.1,30.3),(51.4,29.8),(53.2,31.2),(54.4,30.2),(55.8,30),
    (56.6,31.9),(57.2,33),(58.1,30.5),(59.3,31.1),(60.4,33.2),(59,33.8),(55,32.3),(54.5,34.4),(53.6,33.2),(56.3,35.5),
    (49.6,32.7),(50.7,35.3),(46.6,34.4),(47.1,36.2),(44.7,33.1),(44.5,35.3),(46.4,37.2),(47.6,36.4),(46.3,38.6),(45.9,40.8),
    (47.6,40.1),(50.6,40.6),(52.2,40.3),(55.1,40.9),(55.2,42.9),(51.7,45.3),(49.5,46.8),(48.4,43.1),(49.6,44.3),(60.7,32.9),
    (62.1,35.1),(62.6,36.4),(61.2,37),(60.5,38.3),(62.9,38.6),(62.3,40.7),(60,40.4),(59.2,41.2),(57.9,42.8),(56.2,43.1),
    (55.7,45.3),(56.8,46.2),(57.4,46.4),(54.2,46.8),(53.4,45.5),(64.4,33.4),(65.5,34.9),(66.9,34.6),(68.8,32.9),(71.1,34.6),
    (71.3,35.7),(74.4,35.3),(72.2,37.3),(73.6,38.4),(71.4,38.8),(69.9,38.2),(66.9,38.5),(65.9,38.2),(64.5,39.8),(63.4,43.2),
    (65.8,43.1),(65.5,40.4),(62.7,42.6),(77.3,37.1),(79.6,36.9),(82,35.1),(82.2,36.9),(79.6,33),(79.4,32.3),(83.7,37.3),
    (86.9,37.7),(86.7,39.9),(82.5,38.5),(79,40.3),(77.3,39.1),(75.5,41),(71.2,41.3),(73.1,40.1),(72.2,42.5),(70,43.1),
    (73.5,44.2),(74.3,46.1),(73.4,47.1),(71.1,46.8),(69.7,46.7),(70.8,48.9),(69.3,48.2),(67,46.4),(68.2,49.2),(66.2,48.2),
    (72.4,49.8),(70,51.4),(68.2,51.5),(69.1,52.4),(66.1,51.2),(62.1,50.2),(61.6,51.6),(60.8,49.2),(57.4,49.6),(58,52.1),
    (60.8,54.3),(75.5,44.3),(77,43.1),(80.4,43.1),(82.1,44.6),(79.1,44.5),(77.4,46.7),(75.8,47.7),(77.1,49.1),(76.1,49.9),
    (77.6,50.3),(89.6,41.5),(88.3,43.8),(85.5,47.4),(84.7,49.2),(40.9,49.5),(39.2,50.2),(41.4,56.2),(49.7,60.2),(48.7,63.5),
    (57.3,67.6),(57,70.8),(69.6,65.6),(66.1,58.4),(88.6,54),(85.7,56.3),(83.4,62.9),(53.1,47.4),
])

panels = [
    (rainy_2x, hazy_2x, lowlight_2x),
    (rainy_4x, hazy_4x, lowlight_4x),
    (rainy_8x, hazy_8x, lowlight_8x),
    (rainy_16x, hazy_16x, lowlight_16x),
]

fig = plt.figure(figsize=(8.3, 8.45), dpi=100)
W, H = 830, 845
boxes = [(30, 40), (429, 40), (30, 458), (429, 458)]  # left/top in px
aw, ah = 371, 367

for (left, top), title, data in zip(boxes, titles, panels):
    ax = fig.add_axes([left / W, 1 - (top + ah) / H, aw / W, ah / H])
    for pts, name, c in zip(data, classes, colors):
        ax.scatter(pts[:, 0], pts[:, 1], s=26, c=c, label=name, linewidths=0)
    ax.set_xlim(0, 111.6)
    ax.set_ylim(110.4, 0)
    ax.set_xticks([])
    ax.set_yticks([])
    ax.set_title(title, fontsize=16, fontweight="bold")
    ax.legend(loc="upper left", prop={"weight": "bold", "size": 12.5}, labelspacing=0.4)

fig.savefig("out.png", dpi=100)
